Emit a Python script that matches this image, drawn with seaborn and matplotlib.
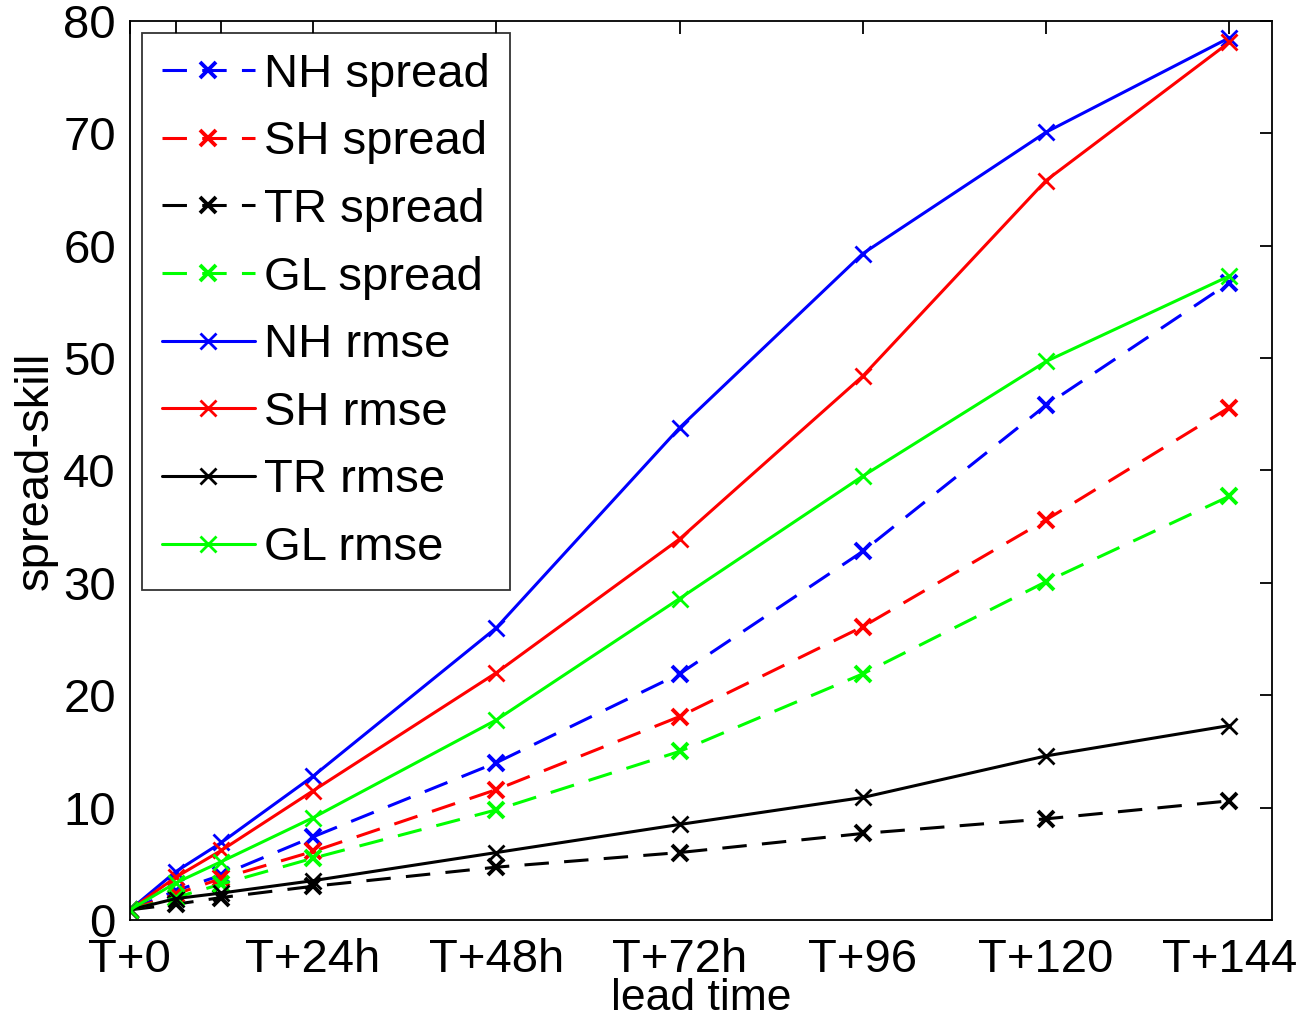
import numpy as np
import pandas as pd
import matplotlib
matplotlib.use("Agg")
import matplotlib.pyplot as plt
import seaborn as sns

lead_hours = [0, 6, 12, 24, 48, 72, 96, 120, 144]
tick_labels = ["T+0", "", "", "T+24h", "T+48h", "T+72h", "T+96", "T+120", "T+144"]

nh_spread = [0.9, 2.6, 4.0, 7.4, 14.0, 21.9, 32.8, 45.8, 56.7]
sh_spread = [0.9, 2.3, 3.7, 6.1, 11.6, 18.1, 26.1, 35.6, 45.6]
tr_spread = [0.9, 1.4, 2.0, 3.0, 4.7, 6.0, 7.7, 9.0, 10.6]
gl_spread = [0.9, 2.0, 3.2, 5.5, 9.8, 15.0, 21.9, 30.1, 37.7]
nh_rmse = [0.9, 4.3, 6.9, 12.8, 26.0, 43.8, 59.3, 70.1, 78.5]
sh_rmse = [0.9, 3.8, 6.2, 11.5, 22.0, 33.9, 48.4, 65.8, 78.1]
tr_rmse = [0.9, 1.9, 2.4, 3.5, 6.0, 8.5, 10.9, 14.6, 17.3]
gl_rmse = [0.9, 3.3, 5.2, 9.1, 17.8, 28.6, 39.5, 49.7, 57.3]

series_names = ["NH spread", "SH spread", "TR spread", "GL spread",
                "NH rmse", "SH rmse", "TR rmse", "GL rmse"]
series_values = [nh_spread, sh_spread, tr_spread, gl_spread,
                 nh_rmse, sh_rmse, tr_rmse, gl_rmse]
series_colors = ["#0000ff", "#ff0000", "#000000", "#00ff00",
                 "#0000ff", "#ff0000", "#000000", "#00ff00"]

sns.set_theme(style="white")
plt.rcParams["font.family"] = ["Liberation Sans", "DejaVu Sans"]
plt.rcParams["text.color"] = "black"
plt.rcParams["axes.labelcolor"] = "black"
plt.rcParams["xtick.color"] = "black"
plt.rcParams["ytick.color"] = "black"

fig = plt.figure(figsize=(13.12, 10.23), dpi=100)
ax = fig.add_axes([0.099, 0.1007, 0.8705, 0.8788])

for name, vals, col in zip(series_names, series_values, series_colors):
    df = pd.DataFrame({"lead": lead_hours, "value": vals})
    dashed = "spread" in name
    sns.lineplot(data=df, x="lead", y="value", ax=ax, color=col,
                 marker="x", markersize=11,
                 markeredgewidth=2.8 if dashed else 2.0,
                 markeredgecolor=col, linewidth=2.2, label=name)
    ln = ax.lines[-1]
    if dashed:
        ln.set_dashes((8, 5))

ax.set_xlim(0, 149.6)
ax.set_ylim(0, 80)
ax.set_xticks(lead_hours)
ax.set_xticklabels(tick_labels)
ax.set_yticks(np.arange(0, 81, 10))
ax.tick_params(axis="both", which="both", direction="in", length=9, width=1.3,
               top=True, right=True, labelsize=34, colors="black")
ax.tick_params(axis="x", pad=13)
ax.tick_params(axis="y", pad=10)
for sp in ax.spines.values():
    sp.set_color("black")
    sp.set_linewidth(1.3)
ax.set_xlabel("lead time", fontsize=32, labelpad=-3, color="black")
ax.set_ylabel("spread-skill", fontsize=34, labelpad=4, color="black")

leg = ax.legend(loc="upper left", bbox_to_anchor=(0.0105, 0.9867), fontsize=34,
                frameon=True, fancybox=False, edgecolor="black",
                handlelength=1.97, handletextpad=0.2, labelspacing=0.5,
                borderpad=0.42, borderaxespad=0.0)
leg.get_frame().set_linewidth(1.3)
for t in leg.get_texts():
    t.set_color("black")

fig.savefig("out.png", dpi=100)
